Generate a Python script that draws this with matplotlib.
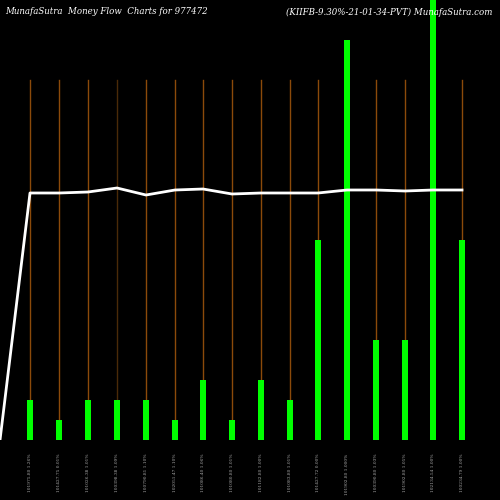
import matplotlib
matplotlib.use("Agg")
import matplotlib.pyplot as plt

labels = ["101975.80 1.26%", "101427.75 0.01%", "101026.38 1.01%", "100398.38 1.09%",
          "100790.81 1.10%", "102051.47 1.10%", "101086.40 1.06%", "101080.80 1.01%",
          "101182.80 1.00%", "101083.80 1.01%", "101427.72 0.00%", "101902.80 1.000%",
          "100390.80 1.03%", "101902.80 1.05%", "102134.54 1.00%", "100234.79 1.00%"]
volume = [40, 20, 40, 40, 40, 20, 60, 20, 60, 40, 200, 400, 100, 100, 470, 200]
price_line = [247, 247, 248, 252, 245, 250, 251, 246, 247, 247, 247, 250, 250, 249, 250, 250]
line_start = 0
xpos = [30, 59, 88, 117, 146, 175, 203, 232, 261, 290, 318, 347, 376, 405, 433, 462]
line_colors = ["#8B4A0A"] * 16
line_colors[3] = "#4a2a08"

fig = plt.figure(figsize=(5, 5), dpi=100, facecolor="black")
ax = fig.add_axes([0, 60/500, 1, 440/500], facecolor="black")
ax.set_xlim(0, 500)
ax.set_ylim(0, 440)
for x, c in zip(xpos, line_colors):
    ax.plot([x, x], [0, 360], color=c, lw=1, zorder=1)
ax.bar(xpos, volume, width=6.5, color="#00ff00", zorder=2)
ax.plot([0] + xpos, [line_start] + price_line, color="white", lw=2, zorder=3)
ax.axis("off")
for x, l in zip(xpos, labels):
    fig.text(x/500, 46/500, l, rotation=90, color="#aaaaaa", fontsize=3.2,
             ha="center", va="top", family="DejaVu Serif")
fig.text(0.01, 0.985, "MunafaSutra  Money Flow  Charts for 977472", color="white",
         fontsize=6.2, style="italic", family="DejaVu Serif", va="top")
fig.text(0.985, 0.985, "(KIIFB-9.30%-21-01-34-PVT) MunafaSutra.com", color="white",
         fontsize=6.2, style="italic", family="DejaVu Serif", va="top", ha="right")
fig.savefig("out.png", facecolor="black")
